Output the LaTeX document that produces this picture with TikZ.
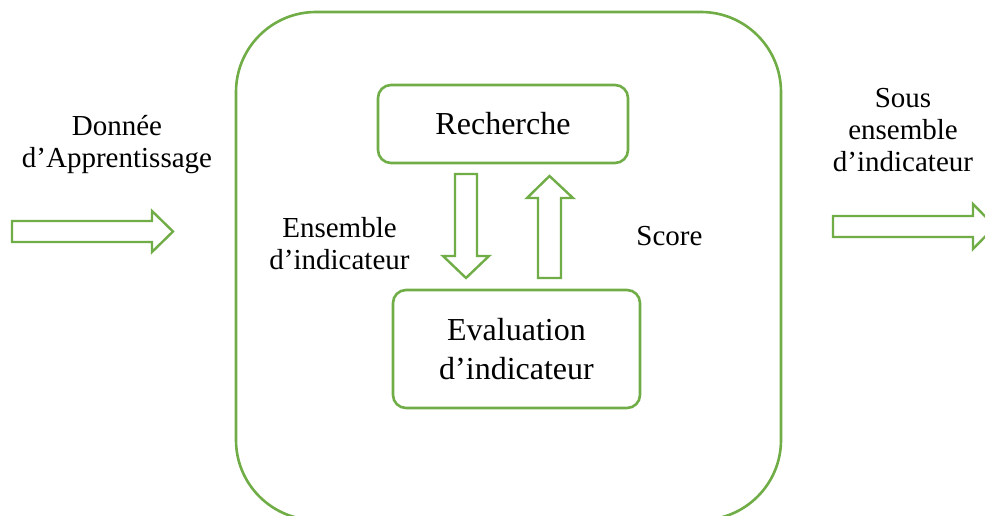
\documentclass[tikz,border=0pt]{standalone}
\usepackage{fontspec}
\setmainfont{Liberation Serif}
\definecolor{leaf}{HTML}{70AD47}
\tikzset{
  frame/.style={draw=leaf, line width=2.6pt, rounded corners=#1},
  stage/.style={draw=leaf, line width=2.6pt, rounded corners=13pt,
    align=center, inner sep=0pt, font=\fontsize{32}{39}\selectfont},
  caption/.style={align=center, inner sep=0pt, font=\fontsize{29}{32}\selectfont},
  blockarrow/.style={draw=leaf, line width=2.4pt, line join=miter, fill=white}
}
\begin{document}
\begin{tikzpicture}[x=1pt, y=-1pt]
  \useasboundingbox (0,0) rectangle (985,516);

  % outer process frame
  \draw[frame=80pt] (236,12) rectangle (781,520);

  % inner stages
  \node[stage, minimum width=250pt, minimum height=78pt] (search) at (503,124) {Recherche};
  \node[stage, minimum width=247pt, minimum height=118pt] (eval) at (516.5,349) {Evaluation\\d’indicateur};

  % inputs / outputs
  \node[caption] (data) at (117,145) {Donnée\\d’Apprentissage};
  \node[caption] (set) at (339.5,243.5) {Ensemble\\d’indicateur};
  \node[caption] (score) at (669.5,236) {Score};
  \node[caption] (subset) at (903,130) {Sous\\ensemble\\d’indicateur};

  % input block arrow
  \draw[blockarrow] (12,221) -- (152,221) -- (152,211) -- (173,231.5)
    -- (152,252) -- (152,242) -- (12,242) -- cycle;
  % output block arrow
  \draw[blockarrow] (833,216) -- (973,216) -- (973,204) -- (995,226.5)
    -- (973,249) -- (973,237) -- (833,237) -- cycle;

  % search -> evaluation
  \draw[blockarrow] (455,174) -- (477,174) -- (477,256) -- (489,256)
    -- (466,278) -- (443,256) -- (455,256) -- cycle;
  % evaluation -> search
  \draw[blockarrow] (538,278) -- (561,278) -- (561,198) -- (573,198)
    -- (549.5,176) -- (527,198) -- (538,198) -- cycle;
\end{tikzpicture}
\end{document}
